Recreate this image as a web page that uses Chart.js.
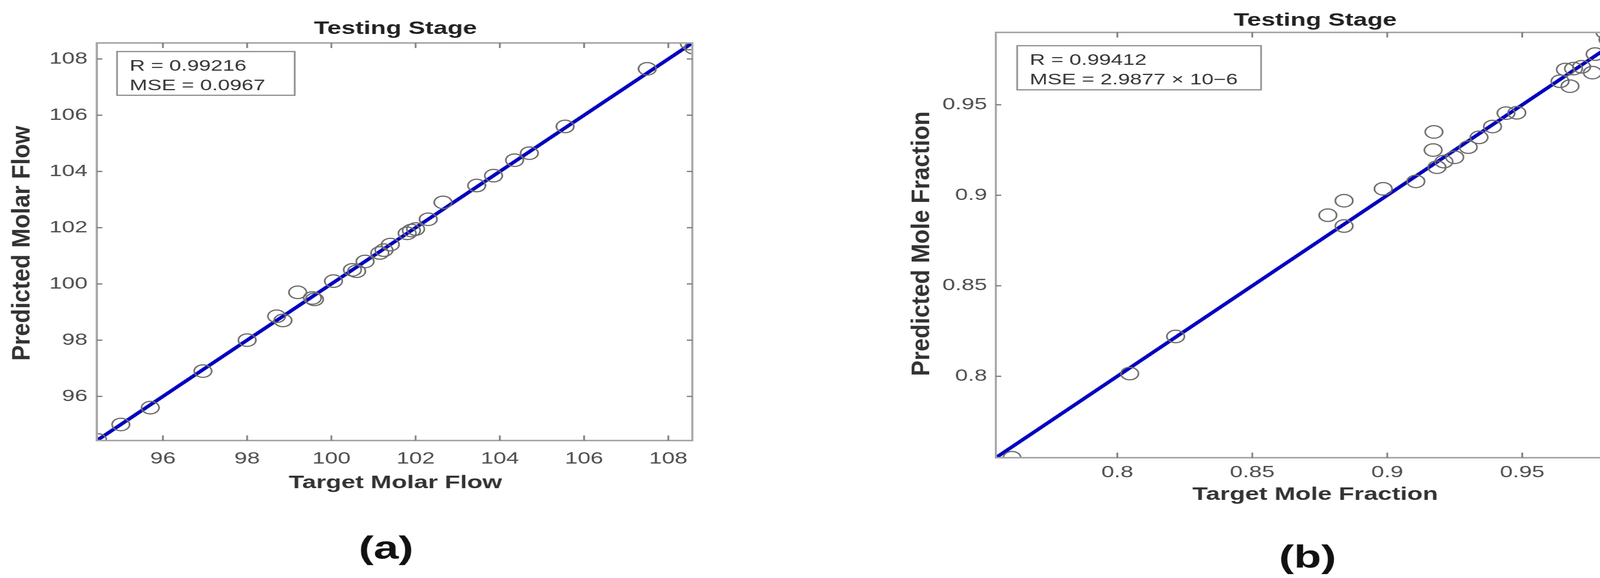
<!DOCTYPE html>
<html>
<head>
<meta charset="utf-8">
<script src="https://cdn.jsdelivr.net/npm/chart.js@4.4.1/dist/chart.umd.min.js"></script>
<style>
  html, body { margin: 0; padding: 0; background: #fff; overflow: hidden; }
  #wrap { position: absolute; left: 0; top: 0; width: 3006px; height: 1480px;
          transform: scaleX(1.4); transform-origin: 0 0; }
  #wrap canvas { position: absolute; left: 0; top: 0; width: 3006px; height: 1480px; }
</style>
</head>
<body>
<div id="wrap">
  <canvas id="chartA" width="3006" height="1480"></canvas>
  <canvas id="chartB" width="3006" height="1480"></canvas>
</div>
<script>
/****************** DATA **********************/

// (a) molar flow, testing stage
var flowTarget = [94.45, 95.0, 95.7, 96.95, 98.0, 98.7, 98.85, 99.2, 99.55, 99.6,
                  100.05, 100.5, 100.6, 100.8, 101.15, 101.25, 101.4, 101.8, 101.9, 102.0,
                  102.3, 102.65, 103.45, 103.85, 104.35, 104.7, 105.55, 107.5, 108.5, 108.6];
var flowPredicted = [94.45, 95.0, 95.6, 96.9, 98.0, 98.85, 98.7, 99.7, 99.5, 99.45,
                     100.1, 100.5, 100.45, 100.8, 101.1, 101.2, 101.4, 101.8, 101.9, 101.95,
                     102.3, 102.9, 103.5, 103.85, 104.4, 104.65, 105.6, 107.65, 108.55, 108.4];
var flowFit = [94.43, 108.57];
var flowTicks = [96, 98, 100, 102, 104, 106, 108];
var flowStats = ["R = 0.99216", "MSE = 0.0967"];

// (b) mole fraction, testing stage
var fracTarget = [0.761, 0.8046, 0.8216, 0.878, 0.884, 0.884, 0.8985, 0.9106, 0.9173, 0.917,
                  0.9184, 0.921, 0.925, 0.93, 0.934, 0.939, 0.944, 0.948, 0.964, 0.966,
                  0.9677, 0.969, 0.972, 0.976, 0.977, 0.9807, 0.9818, 0.9868, 0.987];
var fracPredicted = [0.755, 0.8015, 0.822, 0.889, 0.897, 0.883, 0.9036, 0.9077, 0.935, 0.925,
                     0.9155, 0.9186, 0.921, 0.9266, 0.932, 0.938, 0.9454, 0.9456, 0.963, 0.9695,
                     0.9603, 0.970, 0.971, 0.9678, 0.978, 0.990, 0.986, 0.991, 0.9824];
var fracFit = [0.755, 0.990];
var fracTicks = [0.8, 0.85, 0.9, 0.95];
var fracStats = ["R = 0.99412", "MSE = 2.9877 \u00d7 10\u22126"];

/****************** FONCTION **********************/

var FONT = "'Liberation Sans', Arial, sans-serif";

function toPoints(xs, ys)
{
    return xs.map(function (x, i) { return { x: x, y: ys[i] }; });
}

// frame, inward ticks, tick labels and all the texts of a panel
function panelPlugin(p)
{
    return {
        id: 'panel',
        afterDraw: function (chart) {
            var ctx = chart.ctx, a = chart.chartArea;
            var sx = chart.scales.x, sy = chart.scales.y;
            ctx.save();
            ctx.strokeStyle = '#a6a6a6';
            ctx.lineWidth = 4;
            ctx.strokeRect(a.left, a.top, a.right - a.left, a.bottom - a.top);
            ctx.lineWidth = 3;
            ctx.strokeStyle = '#777';
            ctx.fillStyle = '#4d4d4d';
            ctx.font = '42px ' + FONT;
            p.ticks.forEach(function (v) {
                var px = sx.getPixelForValue(v), py = sy.getPixelForValue(v);
                ctx.beginPath();
                ctx.moveTo(px, a.bottom); ctx.lineTo(px, a.bottom - 13);
                ctx.moveTo(px, a.top); ctx.lineTo(px, a.top + 13);
                ctx.moveTo(a.left, py); ctx.lineTo(a.left + 10, py);
                ctx.moveTo(a.right, py); ctx.lineTo(a.right - 10, py);
                ctx.stroke();
                ctx.textAlign = 'center';
                ctx.textBaseline = 'top';
                ctx.fillText(String(v), px, a.bottom + p.xPad);
                ctx.textAlign = 'right';
                ctx.textBaseline = 'middle';
                ctx.fillText(String(v), a.left - p.yPad, py);
            });

            // stats box
            ctx.lineWidth = 3;
            ctx.strokeStyle = '#888';
            ctx.fillStyle = '#fff';
            ctx.fillRect(p.box[0], p.box[1], p.box[2], p.box[3]);
            ctx.strokeRect(p.box[0], p.box[1], p.box[2], p.box[3]);
            ctx.fillStyle = '#333';
            ctx.font = '39px ' + FONT;
            ctx.textAlign = 'left';
            ctx.textBaseline = 'middle';
            ctx.fillText(p.stats[0], p.box[0] + 23, p.box[1] + 38);
            ctx.fillText(p.stats[1], p.box[0] + 23, p.box[1] + 88);

            ctx.textAlign = 'center';
            ctx.fillStyle = '#222';
            ctx.font = 'bold 46px ' + FONT;
            ctx.fillText('Testing Stage', p.titleX, p.titleY);
            ctx.fillStyle = '#333';
            ctx.fillText(p.xLabel, p.titleX, p.xLabelY);
            ctx.save();
            ctx.translate(p.yLabelX, p.yLabelY);
            ctx.rotate(-Math.PI / 2);
            ctx.scale(1.3, 1);
            ctx.fillText(p.yLabel, 0, 0);
            ctx.restore();
            ctx.fillStyle = '#111';
            ctx.font = 'bold 82px ' + FONT;
            ctx.fillText(p.tag, p.tagX, p.tagY);
            ctx.restore();
        }
    };
}

function makeScatter(id, xs, ys, fit, p)
{
    var axis = function (fitFn) {
        return {
            type: 'linear',
            min: fit[0],
            max: fit[1],
            afterFit: fitFn,
            grid: { display: false },
            border: { display: false },
            ticks: { display: false }
        };
    };

    new Chart(document.getElementById(id), {
        type: 'scatter',
        data: {
            datasets: [{
                data: toPoints(xs, ys),
                pointStyle: 'circle',
                pointRadius: 16,
                pointBorderWidth: 3,
                pointBorderColor: '#6a6a6a',
                pointBackgroundColor: 'rgba(0,0,0,0)'
            }, {
                type: 'line',
                data: toPoints(fit, fit),
                borderColor: '#0000c0',
                borderWidth: 8,
                pointRadius: 0
            }]
        },
        options: {
            responsive: false,
            animation: false,
            devicePixelRatio: 1,
            layout: { padding: p.pad },
            plugins: { legend: { display: false }, tooltip: { enabled: false } },
            scales: {
                x: axis(function (s) { s.height = 0; }),
                y: axis(function (s) { s.width = 0; })
            }
        },
        plugins: [panelPlugin(p)]
    });
}

makeScatter('chartA', flowTarget, flowPredicted, flowFit, {
    pad: { left: 177, top: 110, right: 1740, bottom: 352 },
    xPad: 26, yPad: 17,
    ticks: flowTicks, stats: flowStats,
    box: [214, 132, 325, 112],
    titleX: 723, titleY: 74,
    xLabel: 'Target Molar Flow', xLabelY: 1237,
    yLabel: 'Predicted Molar Flow', yLabelX: 41, yLabelY: 623,
    tag: '(a)', tagX: 706, tagY: 1407
});

makeScatter('chartB', fracTarget, fracPredicted, fracFit, {
    pad: { left: 1821, top: 83, right: 25, bottom: 308 },
    xPad: 17, yPad: 16,
    ticks: fracTicks, stats: fracStats,
    box: [1860, 117, 446, 113],
    titleX: 2405, titleY: 53,
    xLabel: 'Target Mole Fraction', xLabelY: 1267,
    yLabel: 'Predicted Mole Fraction', yLabelX: 1686, yLabelY: 624,
    tag: '(b)', tagX: 2391, tagY: 1430
});
</script>
</body>
</html>
